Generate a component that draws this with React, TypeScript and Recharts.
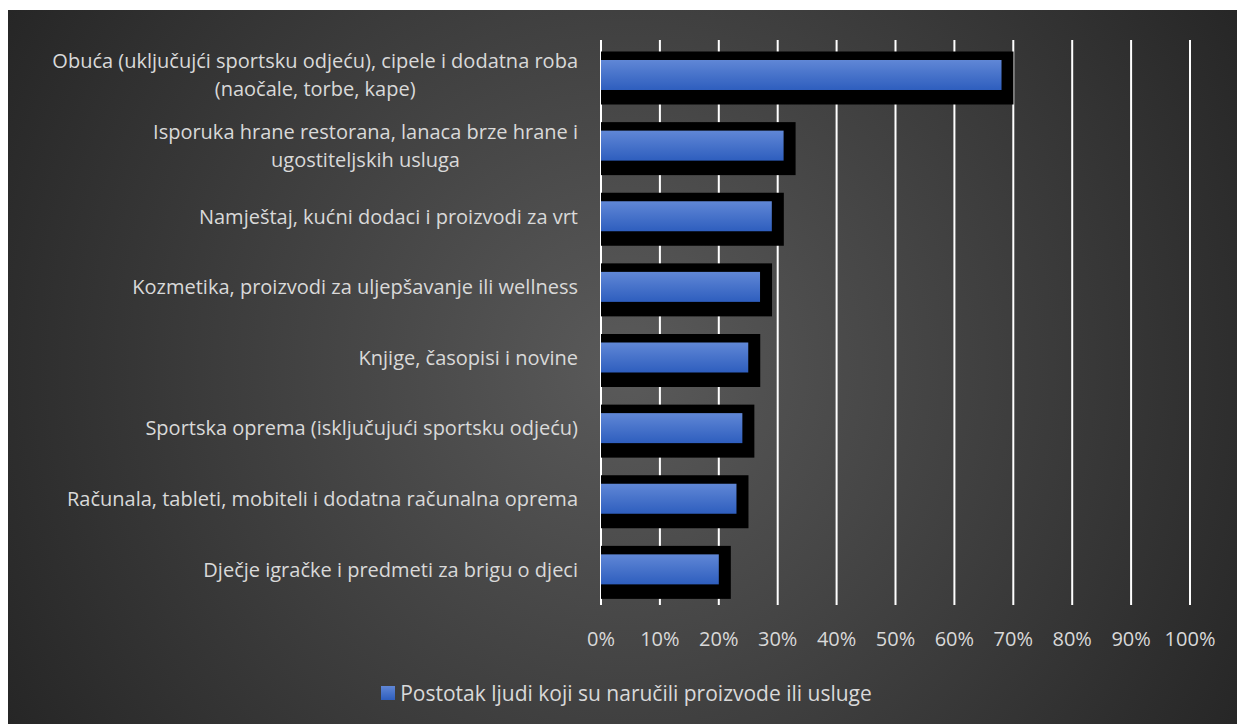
import React from "react";
import {
  BarChart,
  Bar,
  XAxis,
  YAxis,
  CartesianGrid,
  Legend,
} from "recharts";

// categories, top to bottom ("\n" marks a line break in the axis label)
const categories = [
  "Obuća (uključujći sportsku odjeću), cipele i dodatna roba\n(naočale, torbe, kape)",
  "Isporuka hrane restorana, lanaca brze hrane i\nugostiteljskih usluga",
  "Namještaj, kućni dodaci i proizvodi za vrt",
  "Kozmetika, proizvodi za uljepšavanje ili wellness",
  "Knjige, časopisi i novine",
  "Sportska oprema (isključujući sportsku odjeću)",
  "Računala, tableti, mobiteli i dodatna računalna oprema",
  "Dječje igračke i predmeti za brigu o djeci",
];
const values = [68, 31, 29, 27, 25, 24, 23, 20];
const xTicks = [0, 10, 20, 30, 40, 50, 60, 70, 80, 90, 100];
const seriesName = "Postotak ljudi koji su naručili proizvode ili usluge";

const data = categories.map((c, i) => ({ name: c, value: values[i] }));

const FONT = "'Open Sans', Lato, sans-serif";
const TEXT = "#d9d9d9";

let ctx: CanvasRenderingContext2D | null = null;
const measure = (s: string) => {
  if (!ctx) ctx = document.createElement("canvas").getContext("2d");
  if (!ctx) return s.length * 9.5;
  ctx.font = "20px 'Open Sans'";
  return ctx.measureText(s).width;
};

const CategoryTick = (props: any) => {
  const { x, y, payload } = props;
  const lines: string[] = String(payload.value).split("\n");
  const w = Math.max(...lines.map(measure));
  const cx = x - w / 2;
  const lh = 28;
  const y0 = y - ((lines.length - 1) * lh) / 2;
  return (
    <text textAnchor="middle" fill={TEXT} fontSize={20} fontFamily={FONT}>
      {lines.map((l, i) => (
        <tspan key={i} x={cx} y={y0 + i * lh} dy="0.35em">
          {l}
        </tspan>
      ))}
    </text>
  );
};

// bar with the heavy black drop shadow Excel draws behind it
const ShadowBar = (props: any) => {
  const { x, y, width, height } = props;
  if (!width) return null;
  return (
    <g>
      <rect x={x} y={y - 8.5} width={width + 12} height={height + 23} fill="#000" />
      <rect x={x} y={y} width={width} height={height} fill="url(#blueGrad)" />
    </g>
  );
};

const LegendContent = () => (
  <div
    style={{
      display: "flex",
      justifyContent: "center",
      alignItems: "center",
      fontFamily: FONT,
      fontSize: 21,
      color: TEXT,
    }}
  >
    <span
      style={{
        display: "inline-block",
        width: 14,
        height: 14,
        background: "linear-gradient(#6087d6, #2e5ebe)",
        marginRight: 5,
      }}
    />
    <span>{seriesName}</span>
  </div>
);

export default function App() {
  return (
    <div
      style={{
        width: 1237,
        height: 714,
        marginTop: 2,
        background:
          "radial-gradient(circle farthest-corner at 50% 50%, #5a5a5a 0%, #262626 100%)",
      }}
    >
      <BarChart
        width={1237}
        height={714}
        data={data}
        layout="vertical"
        margin={{ top: 30, right: 55, left: 0, bottom: 79 }}
        barSize={30}
      >
        <defs>
          <linearGradient id="blueGrad" x1="0" y1="0" x2="0" y2="1">
            <stop offset="0%" stopColor="#6087d6" />
            <stop offset="100%" stopColor="#2e5ebe" />
          </linearGradient>
        </defs>
        <CartesianGrid horizontal={false} stroke="#ffffff" strokeWidth={2} />
        <XAxis
          type="number"
          domain={[0, 100]}
          ticks={xTicks}
          tickFormatter={(v: number) => `${v}%`}
          axisLine={false}
          tickLine={false}
          tickSize={0}
          tickMargin={27}
          height={40}
          tick={{ fill: TEXT, fontSize: 20, fontFamily: FONT }}
          interval={0}
        />
        <YAxis
          type="category"
          dataKey="name"
          width={593}
          axisLine={false}
          tickLine={false}
          tickSize={0}
          tickMargin={23}
          tick={<CategoryTick />}
          interval={0}
        />
        <Legend
          verticalAlign="middle"
          align="center"
          layout="horizontal"
          content={<LegendContent />}
          wrapperStyle={{ top: 669, left: 0, width: 1237 }}
        />
        <Bar
          dataKey="value"
          name={seriesName}
          shape={<ShadowBar />}
          isAnimationActive={false}
        />
      </BarChart>
    </div>
  );
}
